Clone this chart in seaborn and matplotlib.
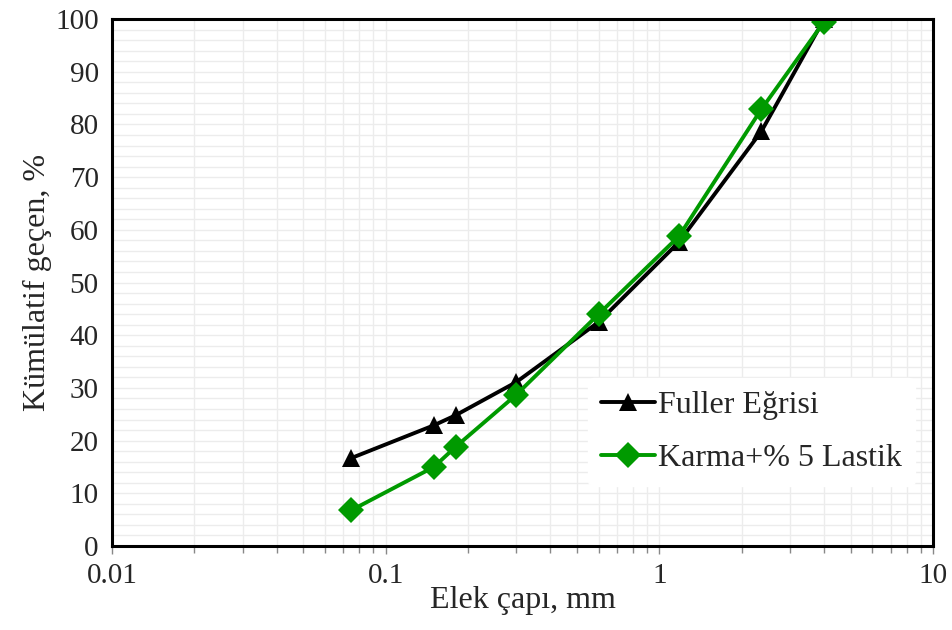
import seaborn as sns
import matplotlib.pyplot as plt
from matplotlib.ticker import LogLocator, MultipleLocator, FixedFormatter, FixedLocator, NullFormatter
import pandas as pd

# ---- données ---- #
elek = [0.075, 0.15, 0.18, 0.3, 0.6, 1.18, 2.36, 4.0]
fuller = [16.7, 22.9, 24.8, 31.1, 42.5, 57.7, 78.7, 100.0]
karma = [6.8, 15.0, 18.8, 28.7, 44.0, 58.8, 82.9, 99.5]
seriler = ["Fuller Eğrisi", "Karma+% 5 Lastik"]

sns.set_style("white")
plt.rcParams['font.family'] = ['Liberation Serif', 'DejaVu Serif']

df = pd.DataFrame({
    "elek": elek * 2,
    "gecen": fuller + karma,
    "seri": [seriler[0]] * len(elek) + [seriler[1]] * len(elek),
})

fig = plt.figure(figsize=(9.52, 6.3), dpi=100)
ax = fig.add_axes([0.1176, 0.1333, 0.8625, 0.8365])

sns.lineplot(data=df, x="elek", y="gecen", hue="seri", style="seri",
             palette={seriler[0]: "black", seriler[1]: "#009a00"},
             markers={seriler[0]: "^", seriler[1]: "D"},
             dashes=False, linewidth=2.8, markersize=13,
             markeredgewidth=0, ax=ax)

ax.set_xscale("log")
ax.set_xlim(0.01, 10)
ax.set_ylim(0, 100)

ax.xaxis.set_major_locator(FixedLocator([0.01, 0.1, 1, 10]))
ax.xaxis.set_major_formatter(FixedFormatter(["0.01", "0.1", "1", "10"]))
ax.xaxis.set_minor_locator(LogLocator(base=10, subs=range(2, 10)))
ax.xaxis.set_minor_formatter(NullFormatter())
ax.yaxis.set_major_locator(MultipleLocator(10))
ax.yaxis.set_minor_locator(MultipleLocator(2))

ax.grid(which="both", color="#ececec", linewidth=1.0)
ax.set_axisbelow(True)

for s in ax.spines.values():
    s.set_color("black")
    s.set_linewidth(2.2)

ax.tick_params(axis="x", which="both", direction="out", color="#888888",
               bottom=True, labelsize=21, pad=6)
ax.tick_params(axis="x", which="major", length=6, width=1)
ax.tick_params(axis="x", which="minor", length=5, width=1)
ax.tick_params(axis="y", which="both", left=False, labelsize=21, pad=6)

ax.set_xlabel("Elek çapı, mm", fontsize=23, labelpad=-2)
ax.set_ylabel("Kümülatif geçen, %", fontsize=23, labelpad=2)

leg = ax.legend(loc="upper left", bbox_to_anchor=(0.56, 0.35), frameon=True,
                fontsize=23, handlelength=1.7, handletextpad=0.1,
                labelspacing=0.75, borderpad=0.4)
leg.get_frame().set_edgecolor("white")
leg.get_frame().set_facecolor("white")
leg.get_frame().set_alpha(1)

plt.savefig("out.png", dpi=100)
plt.close()
